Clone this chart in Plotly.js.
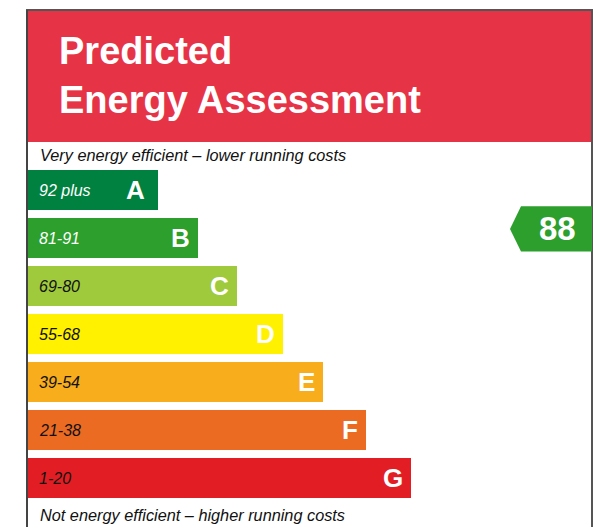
<!DOCTYPE html>
<html>
<head>
<meta charset="utf-8">
<script src="https://cdn.plot.ly/plotly-3.0.1.min.js"></script>
<style>html,body{margin:0;padding:0;background:#fff;}#chart{width:616px;height:527px;}</style>
</head>
<body>
<div id="chart"></div>
<script>
// ---- data ----
const categories = ["A", "B", "C", "D", "E", "F", "G"];
const rangeLabels = ["92 plus", "81-91", "69-80", "55-68", "39-54", "21-38", "1-20"];
const bandMins = [92, 81, 69, 55, 39, 21, 1];
const barLengths = [130, 170, 209, 255, 295, 338, 383];
const barColors = ["#008140", "#2c9f2c", "#9fca3c", "#fff100", "#f8ad1d", "#ec6b23", "#e21e24"];
const rangeTextColors = ["#ffffff", "#ffffff", "#111111", "#111111", "#111111", "#111111", "#111111"];
const rating = 88;
const titleLines = ["Predicted", "Energy Assessment"];
const topNote = "Very energy efficient – lower running costs";
const bottomNote = "Not energy efficient – higher running costs";

// ---- layout helpers ----
const W = 616, H = 527;
const px = x => x / W;
const py = y => 1 - y / H;
const band = bandMins.findIndex(m => rating >= m);
const FONT = "Liberation Sans, Arial, sans-serif";

const annotations = [];
titleLines.forEach((t, i) => {
  annotations.push({
    xref: "paper", yref: "paper", x: px(57), y: py(i === 0 ? 51 : 100),
    xanchor: "left", yanchor: "middle", showarrow: false, text: t,
    font: {family: FONT, size: 38, color: "#ffffff", weight: "bold"}
  });
});
[[topNote, 155], [bottomNote, 515]].forEach(([t, y]) => {
  annotations.push({
    xref: "paper", yref: "paper", x: px(38), y: py(y), xanchor: "left", yanchor: "middle",
    showarrow: false, text: "<i>" + t + "</i>",
    font: {family: FONT, size: 16.3, color: "#111111"}
  });
});
categories.forEach((c, i) => {
  annotations.push({
    xref: "x", yref: "y", x: 0, y: c, xanchor: "left", yanchor: "middle", xshift: 9,
    showarrow: false, text: "<i>" + rangeLabels[i] + "</i>",
    font: {family: FONT, size: 16, color: rangeTextColors[i]}
  });
  annotations.push({
    xref: "x", yref: "y", x: barLengths[i], y: c, xanchor: "right", yanchor: "middle",
    xshift: i === 0 ? -11 : -6,
    showarrow: false, text: "<b>" + c + "</b>",
    font: {family: FONT, size: 26, color: "#ffffff"}
  });
});
const arrowY = band - 0.19, arrowH = 0.47;
annotations.push({
  xref: "x", yref: "y", x: 529, y: arrowY, xanchor: "center", yanchor: "middle",
  showarrow: false, text: "<b>" + rating + "</b>",
  font: {family: FONT, size: 33, color: "#ffffff"}
});

const shapes = [
  // header
  {type: "rect", xref: "paper", yref: "paper", x0: px(27), x1: px(592), y0: py(142), y1: py(10),
   fillcolor: "#e73346", line: {width: 0}, layer: "below"},
  // frame lines
  {type: "line", xref: "paper", yref: "paper", x0: px(26), x1: px(593), y0: py(10), y1: py(10), line: {color: "#555555", width: 2}},
  {type: "line", xref: "paper", yref: "paper", x0: px(27), x1: px(27), y0: py(10), y1: py(530), line: {color: "#444444", width: 2}},
  {type: "line", xref: "paper", yref: "paper", x0: px(592), x1: px(592), y0: py(10), y1: py(530), line: {color: "#555555", width: 2}},
  // rating arrow
  {type: "path", xref: "x", yref: "y",
   path: `M 482 ${arrowY} L 493 ${arrowY - arrowH} L 564 ${arrowY - arrowH} L 564 ${arrowY + arrowH} L 493 ${arrowY + arrowH} Z`,
   fillcolor: barColors[band], line: {width: 0}}
];

const trace = {
  type: "bar", orientation: "h", y: categories, x: barLengths,
  marker: {color: barColors, line: {width: 0}}, hoverinfo: "none"
};

const layout = {
  width: W, height: H, margin: {l: 0, r: 0, t: 0, b: 0, pad: 0},
  paper_bgcolor: "#ffffff", plot_bgcolor: "rgba(0,0,0,0)",
  showlegend: false, bargap: 1 - 40 / 48,
  xaxis: {range: [-28, 588], visible: false, fixedrange: true},
  yaxis: {type: "category", categoryorder: "array", categoryarray: categories,
          range: [(527 - 190) / 48, -190 / 48], visible: false, fixedrange: true},
  shapes: shapes, annotations: annotations
};

Plotly.newPlot("chart", [trace], layout, {displayModeBar: false, staticPlot: true});
</script>
</body>
</html>
